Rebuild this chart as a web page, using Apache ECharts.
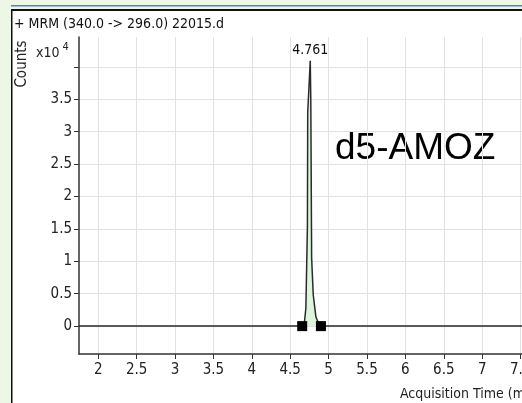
<!DOCTYPE html>
<html><head><meta charset="utf-8">
<script src="https://cdn.jsdelivr.net/npm/echarts@6/dist/echarts.min.js"></script>
<style>html,body{margin:0;padding:0;background:#fff}#c{width:522px;height:403px}</style>
</head><body><div id="c"></div>
<script>
// Chromatogram trace (time in min, counts in units of 10^4)
const retentionTimes = [1.75, 4.60, 4.680, 4.692, 4.704, 4.724, 4.728, 4.761, 4.768, 4.779, 4.800, 4.835, 4.870, 4.905, 5.00, 7.518];
const countsE4       = [0.00, 0.00, 0.000, 0.020, 0.280, 1.530, 3.300, 4.090, 3.500, 1.050, 0.480, 0.140, 0.040, 0.000, 0.00, 0.00];
// Integration boundaries (black squares)
const integrationBounds = [4.656, 4.900];
// Axis ticks / labels
const xTickValues = [2, 2.5, 3, 3.5, 4, 4.5, 5, 5.5, 6, 6.5, 7, 7.5];
const yTickValues = [0, 0.5, 1, 1.5, 2, 2.5, 3, 3.5, 4];
const yLabelValues = [0, 0.5, 1, 1.5, 2, 2.5, 3, 3.5];
const titleText = '+ MRM (340.0 -> 296.0) 22015.d';
const compoundText = 'd5-AMOZ';
const xAxisTitle = 'Acquisition Time (min)';
const yAxisTitle = 'Counts';

const FONT = "'Liberation Sans Narrow', 'Arial Narrow', 'DejaVu Sans Condensed', sans-serif";

const trace = retentionTimes.map((t, i) => [t, countsE4[i]]);
const apexIndex = countsE4.indexOf(Math.max(...countsE4));
const integrated = [[integrationBounds[0], 0]].concat(
  trace.filter(p => p[0] > integrationBounds[0] && p[0] < integrationBounds[1]),
  [[integrationBounds[1], 0]]);

const chart = echarts.init(document.getElementById('c'), null, {renderer: 'canvas'});
chart.setOption({
  animation: false,
  backgroundColor: '#ffffff',
  grid: {left: 79, top: 37, bottom: 49, right: 0, containLabel: false, outerBoundsMode: 'none'},
  xAxis: {
    type: 'value', min: 1.75, max: 7.518,
    axisLine: {onZero: false, lineStyle: {color: '#333', width: 1.5}},
    axisTick: {show: true, inside: false, length: 5, customValues: xTickValues, lineStyle: {color: '#333', width: 1}},
    axisLabel: {customValues: xTickValues, margin: 9, color: '#222', fontFamily: FONT, fontSize: 15,
      hideOverlap: false, formatter: v => String(v)},
    splitLine: {show: true, lineStyle: {color: '#e2e2e2', width: 1}}
  },
  yAxis: {
    type: 'value', min: -0.43, max: 4.46,
    axisLine: {show: true, onZero: false, lineStyle: {color: '#333', width: 1.5}},
    axisTick: {show: true, inside: false, length: 5, customValues: yTickValues, lineStyle: {color: '#333', width: 1}},
    axisLabel: {customValues: yLabelValues, margin: 7, color: '#222', fontFamily: FONT, fontSize: 15,
      formatter: v => String(v)},
    splitLine: {show: true, lineStyle: {color: '#e2e2e2', width: 1}}
  },
  series: [
    {
      name: 'integrated', type: 'line', data: integrated, symbol: 'none', z: 2,
      lineStyle: {width: 0}, areaStyle: {color: '#ddf5dd', opacity: 1}
    },
    {
      name: 'trace', type: 'line', data: trace, symbol: 'none', z: 3,
      lineStyle: {color: '#2a2a2a', width: 1.5}
    },
    {
      name: 'apex', type: 'scatter', data: [trace[apexIndex]], z: 5,
      symbol: 'circle', symbolSize: 1, itemStyle: {color: '#111', opacity: 1},
      label: {show: true, position: 'top', distance: 3, color: '#111', fontFamily: FONT, fontSize: 14,
        formatter: p => p.value[0].toFixed(3)}
    },
    {
      name: 'bounds', type: 'scatter', data: integrationBounds.map(t => [t, 0]), z: 4,
      symbol: 'rect', symbolSize: 10, itemStyle: {color: '#000', opacity: 1}
    }
  ],
  graphic: [
    {type: 'rect', shape: {x: 0, y: 0, width: 11, height: 403}, style: {fill: '#eef7e6'}, silent: true},
    {type: 'rect', shape: {x: 0, y: 0, width: 522, height: 9}, style: {fill: '#eef7e6'}, silent: true},
    {type: 'rect', shape: {x: 11, y: 5, width: 511, height: 1.5}, style: {fill: '#4f7fd6'}, silent: true},
    {type: 'rect', shape: {x: 11, y: 9, width: 511, height: 2}, style: {fill: '#111'}, silent: true},
    {type: 'rect', shape: {x: 11, y: 9, width: 1.5, height: 394}, style: {fill: '#111'}, silent: true},
    {type: 'text', left: 14, top: 17, style: {text: titleText, font: "14px " + FONT, fill: '#111'}},
    {type: 'text', x: 22, y: 64, rotation: Math.PI / 2, style: {text: yAxisTitle, font: "15px " + FONT, fill: '#222', align: 'center', verticalAlign: 'middle'}},
    {type: 'text', x: 36, y: 42, style: {text: '{a|x10}{b| 4}', fill: '#222', rich: {
      a: {fontFamily: FONT, fontSize: 14, verticalAlign: 'bottom', padding: [4, 0, 0, 0]},
      b: {fontFamily: FONT, fontSize: 11, verticalAlign: 'top'}}}},
    {type: 'text', x: 400, y: 394, style: {text: xAxisTitle, font: "14px " + FONT, fill: '#222', verticalAlign: 'middle'}},
    {type: 'text', x: 335, y: 149, style: {text: compoundText, font: "37px 'Liberation Sans', Arial, sans-serif", fill: '#000', verticalAlign: 'middle'}}
  ]
});
</script></body></html>
